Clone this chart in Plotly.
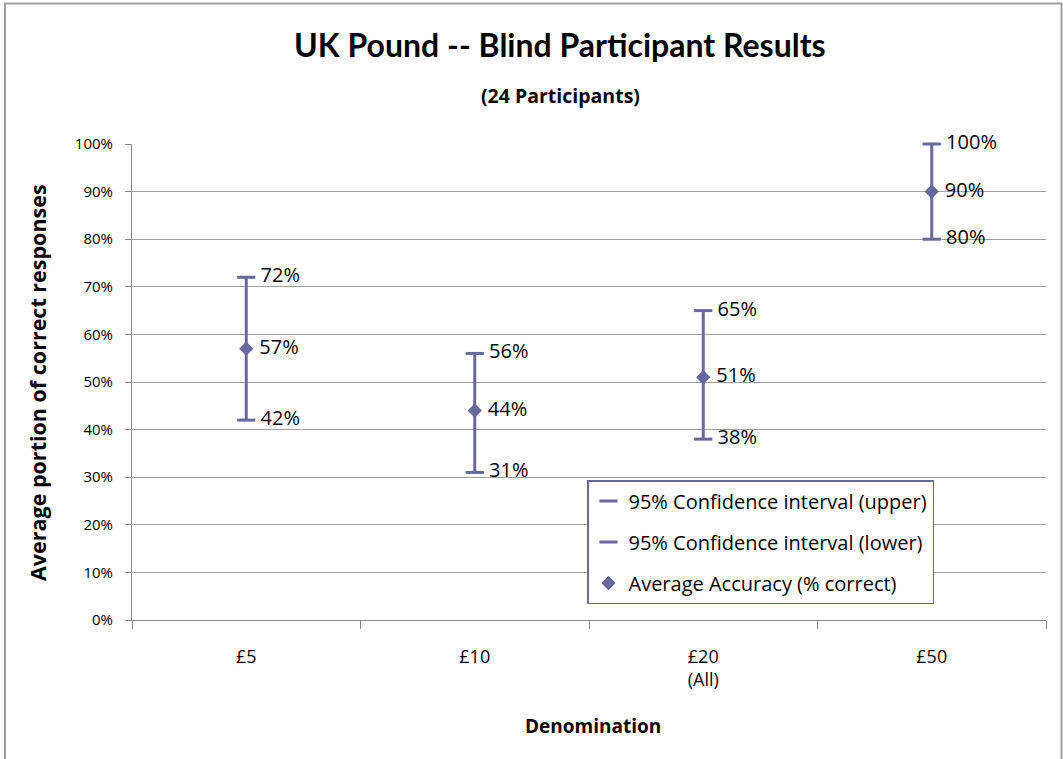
import plotly.graph_objects as go

categories = ["£5", "£10", "£20<br>(All)", "£50"]
average = [57, 44, 51, 90]
upper = [72, 56, 65, 100]
lower = [42, 31, 38, 80]

color = "#6767A1"
font_family = "'Open Sans', sans-serif"

err_plus = [u - a for u, a in zip(upper, average)]
err_minus = [a - l for a, l in zip(average, lower)]

label_font = dict(size=20, color="#000000", family=font_family)

fig = go.Figure()

fig.add_trace(go.Scatter(
    x=categories, y=upper, mode="markers+text",
    name="95% Confidence interval (upper)",
    marker=dict(symbol="line-ew-open", size=13, color=color, line=dict(width=3, color=color)),
    text=[f" {v}%" for v in upper], textposition="middle right",
    textfont=label_font, legendgroup="u", cliponaxis=False,
))
fig.add_trace(go.Scatter(
    x=categories, y=lower, mode="markers+text",
    name="95% Confidence interval (lower)",
    marker=dict(symbol="line-ew-open", size=13, color=color, line=dict(width=3, color=color)),
    text=[f" {v}%" for v in lower], textposition="middle right",
    textfont=label_font, legendgroup="l", cliponaxis=False,
))
fig.add_trace(go.Scatter(
    x=categories, y=average, mode="markers+text",
    name="Average Accuracy (% correct)",
    marker=dict(symbol="diamond", size=11, color=color),
    error_y=dict(type="data", array=err_plus, arrayminus=err_minus, symmetric=False,
                 thickness=3, width=0, color=color),
    text=[f" {v}%" for v in average], textposition="middle right",
    textfont=label_font, legendgroup="a", cliponaxis=False,
))

W, H = 1063, 759
L, R, T, B = 132, 17, 144, 139
PW, PH = W - L - R, H - T - B

def px_x(p):
    return (p - L) / PW

def px_y(p):
    return (H - B - p) / PH

fig.update_layout(
    width=W, height=H,
    margin=dict(l=L, r=R, t=T, b=B),
    paper_bgcolor="white", plot_bgcolor="white",
    font=dict(family=font_family, size=15, color="#000000"),
    showlegend=True,
    legend=dict(
        x=px_x(587), y=px_y(480), xanchor="left", yanchor="top",
        bordercolor=color, borderwidth=1.5, bgcolor="white",
        font=dict(size=20, family=font_family),
        tracegroupgap=12, traceorder="grouped", itemwidth=30,
    ),
    xaxis=dict(
        type="category", range=[-0.5, 3.5], showgrid=False,
        showline=True, linecolor="#888888", linewidth=1,
        ticks="outside", tickson="boundaries", ticklen=8, tickcolor="#888888",
        tickfont=dict(size=18), ticklabelstandoff=20, fixedrange=True,
    ),
    yaxis=dict(
        range=[0, 100], dtick=10, ticksuffix="%",
        showgrid=True, gridcolor="#A0A0A0", gridwidth=1,
        showline=True, linecolor="#888888", linewidth=1,
        ticks="outside", ticklen=6, tickcolor="#888888",
        tickfont=dict(size=15), ticklabelstandoff=9, zeroline=False,
    ),
    shapes=[dict(
        type="rect", xref="paper", yref="paper",
        x0=px_x(5), x1=px_x(1061.5), y0=px_y(780), y1=px_y(3.5),
        line=dict(color="#A0A0A0", width=2), fillcolor="rgba(0,0,0,0)", layer="below",
    )],
    annotations=[
        dict(text="<b>UK Pound -- Blind Participant Results</b>", xref="paper", yref="paper",
             x=px_x(560), y=px_y(44), showarrow=False, font=dict(size=32, family="Lato, sans-serif"),
             xanchor="center", yanchor="middle"),
        dict(text="<b>(24 Participants)</b>", xref="paper", yref="paper",
             x=px_x(560), y=px_y(96), showarrow=False, font=dict(size=19.5),
             xanchor="center", yanchor="middle"),
        dict(text="<b>Average portion of correct responses</b>", xref="paper", yref="paper",
             x=px_x(37), y=px_y(383), showarrow=False, font=dict(size=21.5), textangle=-90,
             xanchor="center", yanchor="middle"),
        dict(text="<b>Denomination</b>", xref="paper", yref="paper",
             x=px_x(593), y=px_y(726), showarrow=False, font=dict(size=19),
             xanchor="center", yanchor="middle"),
    ],
)

fig.write_html("out.html", config={"displayModeBar": False},
               post_script="document.body.style.margin='0';")
